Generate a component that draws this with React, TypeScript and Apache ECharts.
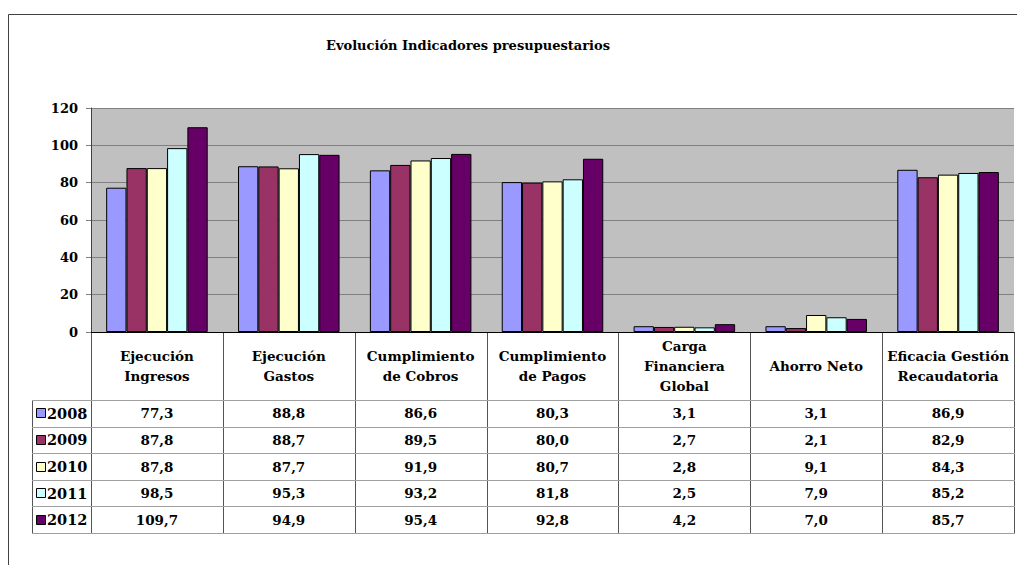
import React, { useEffect, useRef } from "react";
import * as echarts from "echarts";

const TITLE = "Evolución Indicadores presupuestarios";
const categories = [
  "Ejecución\nIngresos",
  "Ejecución\nGastos",
  "Cumplimiento\nde Cobros",
  "Cumplimiento\nde Pagos",
  "Carga\nFinanciera\nGlobal",
  "Ahorro Neto",
  "Eficacia Gestión\nRecaudatoria",
];
const years = ["2008", "2009", "2010", "2011", "2012"];
const colors = ["#9999FF", "#993366", "#FFFFCC", "#CCFFFF", "#660066"];
const v2008 = [77.3, 88.8, 86.6, 80.3, 3.1, 3.1, 86.9];
const v2009 = [87.8, 88.7, 89.5, 80.0, 2.7, 2.1, 82.9];
const v2010 = [87.8, 87.7, 91.9, 80.7, 2.8, 9.1, 84.3];
const v2011 = [98.5, 95.3, 93.2, 81.8, 2.5, 7.9, 85.2];
const v2012 = [109.7, 94.9, 95.4, 92.8, 4.2, 7.0, 85.7];
const seriesValues = [v2008, v2009, v2010, v2011, v2012];
const yTicks = { min: 0, max: 120, interval: 20 };

const FONT = "DejaVu Serif";

export default function App() {
  const ref = useRef<HTMLDivElement>(null);
  useEffect(() => {
    document.body.style.margin = "0";
    if (!ref.current) return;
    const chart = echarts.init(ref.current, undefined, { renderer: "svg" });

    const W = 1017;
    const gl = 91, gr = 1014, gt = 108, gb = 332;
    const cw = (gr - gl) / categories.length;
    const tableTop = 400;
    const rowH = 26.6;
    const legendLeft = 32;
    const tableBottom = tableTop + rowH * years.length;

    const graphics: any[] = [];
    // outer frame
    graphics.push({
      type: "rect",
      shape: { x: 8.5, y: 14.5, width: 1200, height: 800 },
      style: { fill: "none", stroke: "#404040", lineWidth: 1 },
      silent: true,
    });
    graphics.push({
      type: "text",
      x: 468,
      y: 45,
      style: {
        text: TITLE,
        fontFamily: FONT,
        fontWeight: "bold",
        fontSize: 13,
        fill: "#000",
        align: "center",
        verticalAlign: "middle",
      },
    });
    // vertical table lines
    for (let i = 0; i <= categories.length; i++) {
      const x = Math.round(gl + i * cw) + 0.5;
      graphics.push({
        type: "line",
        shape: { x1: x, y1: gb, x2: x, y2: tableBottom },
        style: { stroke: "#555", lineWidth: 1 },
        silent: true,
      });
    }
    graphics.push({
      type: "line",
      shape: { x1: legendLeft + 0.5, y1: tableTop, x2: legendLeft + 0.5, y2: tableBottom },
      style: { stroke: "#555", lineWidth: 1 },
      silent: true,
    });
    // horizontal table lines
    for (let r = 0; r <= years.length; r++) {
      const y = Math.round(tableTop + r * rowH) + 0.5;
      graphics.push({
        type: "line",
        shape: { x1: legendLeft, y1: y, x2: gr + 1, y2: y },
        style: { stroke: "#a0a0a0", lineWidth: 1 },
        silent: true,
      });
    }
    // legend keys and cell values
    years.forEach((yr, r) => {
      const cy = tableTop + (r + 0.5) * rowH;
      graphics.push({
        type: "rect",
        shape: { x: 36.5, y: Math.round(cy - 5) + 0.5, width: 9, height: 9 },
        style: { fill: colors[r], stroke: "#000", lineWidth: 1 },
      });
      graphics.push({
        type: "text",
        x: 47,
        y: cy,
        style: {
          text: yr,
          fontFamily: FONT,
          fontWeight: "bold",
          fontSize: 14.5,
          fill: "#000",
          align: "left",
          verticalAlign: "middle",
        },
      });
      seriesValues[r].forEach((v, i) => {
        graphics.push({
          type: "text",
          x: gl + (i + 0.5) * cw,
          y: cy,
          style: {
            text: v.toFixed(1).replace(".", ","),
            fontFamily: FONT,
            fontWeight: "bold",
            fontSize: 13.5,
            fill: "#000",
            align: "center",
            verticalAlign: "middle",
          },
        });
      });
    });

    chart.setOption({
      animation: false,
      backgroundColor: "#fff",
      grid: {
        left: gl,
        right: W - gr,
        top: gt,
        bottom: 565 - gb,
        show: true,
        backgroundColor: "#C0C0C0",
        borderWidth: 0,
      },
      xAxis: {
        type: "category",
        data: categories,
        axisLine: { show: true, lineStyle: { color: "#000", width: 1 } },
        axisTick: { show: false },
        axisLabel: {
          interval: 0,
          margin: 34,
          verticalAlign: "middle",
          lineHeight: 20,
          fontFamily: FONT,
          fontWeight: "bold",
          fontSize: 13.5,
          color: "#000",
        },
      },
      yAxis: {
        type: "value",
        min: yTicks.min,
        max: yTicks.max,
        interval: yTicks.interval,
        axisLine: { show: true, lineStyle: { color: "#404040" } },
        axisTick: { show: true, length: 5, lineStyle: { color: "#808080" } },
        splitLine: { show: true, lineStyle: { color: "#808080" } },
        axisLabel: {
          margin: 13,
          fontFamily: FONT,
          fontWeight: "bold",
          fontSize: 13,
          color: "#000",
        },
      },
      series: years.map((yr, k) => ({
        name: yr,
        type: "bar",
        data: seriesValues[k],
        barGap: "0%",
        barCategoryGap: "23%",
        itemStyle: { color: colors[k], borderColor: "#000", borderWidth: 1 },
      })),
      graphic: graphics,
    });
    return () => chart.dispose();
  }, []);
  return <div ref={ref} style={{ width: 1017, height: 565 }} />;
}
